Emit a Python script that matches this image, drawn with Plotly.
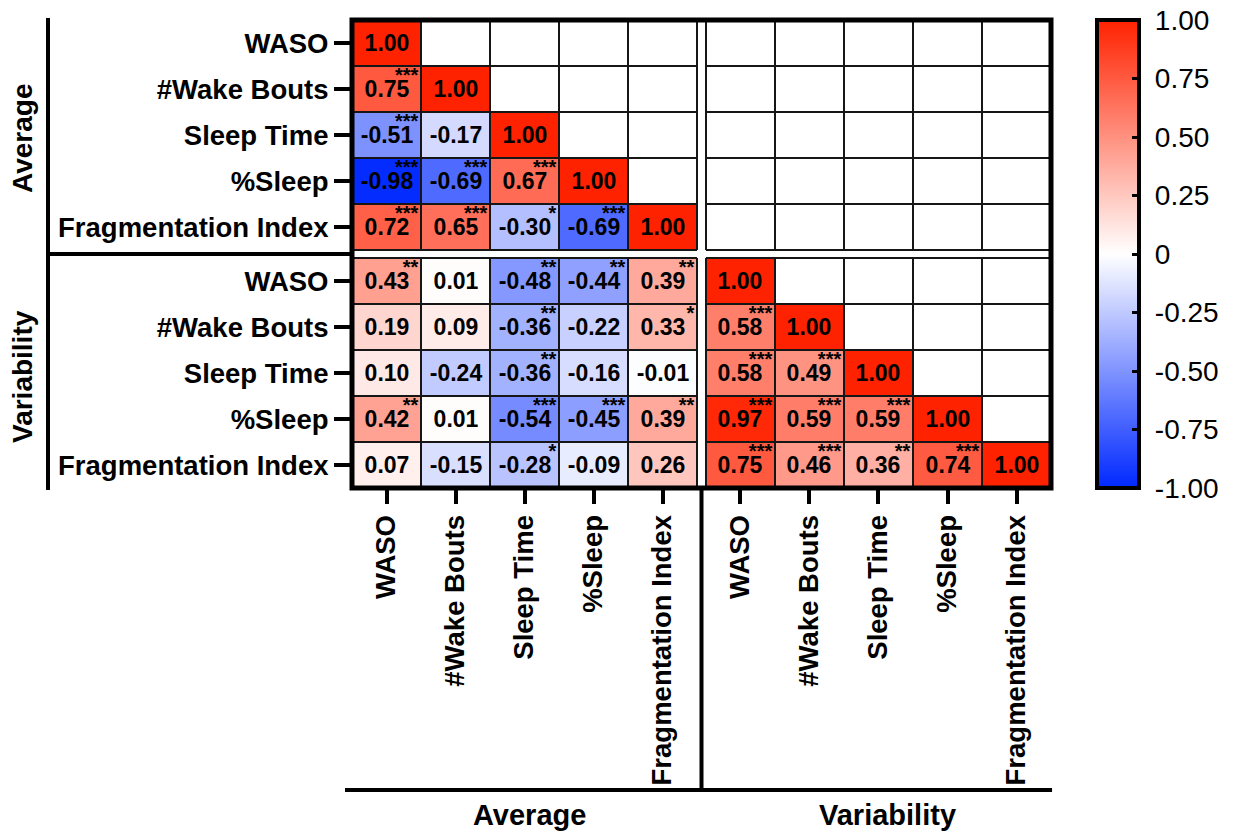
import plotly.graph_objects as go

variables = ["WASO", "#Wake Bouts", "Sleep Time", "%Sleep", "Fragmentation Index"]
groups = ["Average", "Variability"]

# Lower-triangle Pearson r, row by row (Average block, then Variability block)
r_rows = [
    [1.00],
    [0.75, 1.00],
    [-0.51, -0.17, 1.00],
    [-0.98, -0.69, 0.67, 1.00],
    [0.72, 0.65, -0.30, -0.69, 1.00],
    [0.43, 0.01, -0.48, -0.44, 0.39, 1.00],
    [0.19, 0.09, -0.36, -0.22, 0.33, 0.58, 1.00],
    [0.10, -0.24, -0.36, -0.16, -0.01, 0.58, 0.49, 1.00],
    [0.42, 0.01, -0.54, -0.45, 0.39, 0.97, 0.59, 0.59, 1.00],
    [0.07, -0.15, -0.28, -0.09, 0.26, 0.75, 0.46, 0.36, 0.74, 1.00],
]
# Significance markers for the same cells
star_rows = [
    [""],
    ["***", ""],
    ["***", "", ""],
    ["***", "***", "***", ""],
    ["***", "***", "*", "***", ""],
    ["**", "", "**", "**", "**", ""],
    ["", "", "**", "", "*", "***", ""],
    ["", "", "**", "", "", "***", "***", ""],
    ["**", "", "***", "***", "**", "***", "***", "***", ""],
    ["", "", "*", "", "", "***", "***", "**", "***", ""],
]
cbar_vals = [-1.0, -0.75, -0.5, -0.25, 0.0, 0.25, 0.5, 0.75, 1.0]
cbar_text = ["-1.00", "-0.75", "-0.50", "-0.25", "0", "0.25", "0.50", "0.75", "1.00"]

FONT = "Liberation Sans, Arial, Helvetica, sans-serif"
BLOCK = len(variables)
N = BLOCK * len(groups)
GAP_X = 0.13   # white gutter between the two column blocks (in cell units)
GAP_Y = 0.174  # white gutter between the two row blocks

# page layout in pixels
W_PAGE, H_PAGE = 1234, 831
L, T, W, H = 352, 20, 699, 468


def pos_x(i):
    return i + GAP_X * (i // BLOCK)


def pos_y(i):
    return i + GAP_Y * (i // BLOCK)


X_MIN, X_MAX = -0.5, N - 0.5 + GAP_X
Y_MIN, Y_MAX = -0.5, N - 0.5 + GAP_Y


def px_x(px):
    return (px - L) / W


def px_y(py):
    return 1 - (py - T) / H


def data_to_paper_x(x):
    return (x - X_MIN) / (X_MAX - X_MIN)


def data_to_paper_y(y):
    return 1 - (y - Y_MIN) / (Y_MAX - Y_MIN)


colorscale = [[0.0, "rgb(0,40,255)"], [0.5, "rgb(255,255,255)"], [1.0, "rgb(255,34,0)"]]

fig = go.Figure()

# one heatmap per filled block (row block >= column block)
for rb in range(len(groups)):
    for cb in range(rb + 1):
        rows = list(range(rb * BLOCK, (rb + 1) * BLOCK))
        cols = list(range(cb * BLOCK, (cb + 1) * BLOCK))
        z, txt = [], []
        for i in rows:
            zr, tr = [], []
            for j in cols:
                if j <= i:
                    v = r_rows[i][j]
                    zr.append(v)
                    tr.append(f"{v:.2f}")
                else:
                    zr.append(None)
                    tr.append("")
            z.append(zr)
            txt.append(tr)
        fig.add_trace(go.Heatmap(
            z=z,
            x=[pos_x(j) for j in cols],
            y=[pos_y(i) for i in rows],
            text=txt,
            texttemplate="%{text}",
            textfont=dict(family=FONT, size=23, color="black", weight="bold"),
            coloraxis="coloraxis",
            hoverinfo="skip",
        ))

# significance stars in the upper-right corner of each cell
sx, sy, st = [], [], []
for i in range(N):
    for j in range(i + 1):
        if star_rows[i][j]:
            sx.append(pos_x(j) + 0.46)
            sy.append(pos_y(i) - 0.26)
            st.append(star_rows[i][j])
fig.add_trace(go.Scatter(
    x=sx, y=sy, text=st, mode="text", textposition="middle left",
    textfont=dict(family=FONT, size=20, color="black", weight="bold"),
    hoverinfo="skip", showlegend=False,
))

shapes = []
# cell borders for each of the four blocks
for rb in range(len(groups)):
    for cb in range(len(groups)):
        x_edges = [pos_x(cb * BLOCK) - 0.5 + k for k in range(BLOCK + 1)]
        y_edges = [pos_y(rb * BLOCK) - 0.5 + k for k in range(BLOCK + 1)]
        for xe in x_edges:
            shapes.append(dict(type="line", xref="x", yref="y", x0=xe, x1=xe,
                               y0=y_edges[0], y1=y_edges[-1],
                               line=dict(color="#161616", width=2), layer="above"))
        for ye in y_edges:
            shapes.append(dict(type="line", xref="x", yref="y", y0=ye, y1=ye,
                               x0=x_edges[0], x1=x_edges[-1],
                               line=dict(color="#161616", width=2), layer="above"))

# heavy outer frame
shapes.append(dict(type="rect", xref="paper", yref="paper", x0=0, x1=1, y0=0, y1=1,
                   line=dict(color="black", width=5), layer="above"))

# group brackets on the left
bar_x = px_x(48)
mid_y = data_to_paper_y(BLOCK - 0.5 + GAP_Y / 2)
shapes.append(dict(type="line", xref="paper", yref="paper", x0=bar_x, x1=bar_x,
                   y0=px_y(490), y1=px_y(18), line=dict(color="black", width=4)))
shapes.append(dict(type="line", xref="paper", yref="paper", x0=bar_x, x1=0,
                   y0=mid_y, y1=mid_y, line=dict(color="black", width=4)))

# group brackets at the bottom
base_y = px_y(790)
mid_x = data_to_paper_x(BLOCK - 0.5 + GAP_X / 2)
shapes.append(dict(type="line", xref="paper", yref="paper", x0=px_x(345), x1=1.0015,
                   y0=base_y, y1=base_y, line=dict(color="black", width=4)))
shapes.append(dict(type="line", xref="paper", yref="paper", x0=mid_x, x1=mid_x,
                   y0=0, y1=base_y, line=dict(color="black", width=4)))

# colour bar: tick marks on the left edge (Plotly draws the right-edge ones)
cb_left = px_x(1097)
for v in cbar_vals[1:-1]:
    yv = (v - cbar_vals[0]) / (cbar_vals[-1] - cbar_vals[0])
    shapes.append(dict(type="line", xref="paper", yref="paper", xsizemode="pixel",
                       xanchor=cb_left, x0=2, x1=10, y0=yv, y1=yv,
                       line=dict(color="black", width=3)))

annotations = []
for g, name in enumerate(groups):
    cy = (pos_y(g * BLOCK) + pos_y(g * BLOCK + BLOCK - 1)) / 2
    cx = (pos_x(g * BLOCK) + pos_x(g * BLOCK + BLOCK - 1)) / 2
    annotations.append(dict(text=f"<b>{name}</b>", xref="paper", yref="y", x=px_x(22), y=cy,
                            yshift=-4, textangle=-90, showarrow=False,
                            xanchor="center", yanchor="middle",
                            font=dict(family=FONT, size=28, color="black")))
    annotations.append(dict(text=f"<b>{name}</b>", xref="x", yref="paper", x=cx, y=px_y(815),
                            xshift=5 + 4 * g, showarrow=False, xanchor="center", yanchor="middle",
                            font=dict(family=FONT, size=29, color="black")))

tick_font = dict(family=FONT, size=27.5, color="black", weight="bold")
fig.update_layout(
    width=W_PAGE, height=H_PAGE,
    margin=dict(l=L, r=W_PAGE - L - W, t=T, b=H_PAGE - T - H, pad=0, autoexpand=False),
    paper_bgcolor="white", plot_bgcolor="white",
    showlegend=False,
    coloraxis=dict(
        cmin=-1, cmax=1, colorscale=colorscale,
        colorbar=dict(
            x=cb_left, xanchor="left", xpad=0, y=0.5, yanchor="middle",
            len=1, lenmode="fraction", ypad=0, thickness=42,
            outlinewidth=4, outlinecolor="black",
            tickmode="array", tickvals=cbar_vals,
            ticktext=["\u00a0" + t for t in cbar_text],
            ticks="inside", ticklen=9, tickwidth=3, tickcolor="black",
            tickfont=dict(family=FONT, size=28, color="black"),
        ),
    ),
    xaxis=dict(
        range=[X_MIN, X_MAX], tickmode="array",
        tickvals=[pos_x(j) for j in range(N)], ticktext=variables * len(groups),
        tickangle=-90, ticks="outside", ticklen=15, tickwidth=4, tickcolor="black",
        tickfont=tick_font, showgrid=False, zeroline=False, showline=False,
        automargin=False, fixedrange=True,
    ),
    yaxis=dict(
        range=[Y_MAX, Y_MIN], tickmode="array",
        tickvals=[pos_y(i) for i in range(N)], ticktext=variables * len(groups),
        ticks="outside", ticklen=17, tickwidth=4, tickcolor="black",
        tickfont=tick_font, showgrid=False, zeroline=False, showline=False,
        automargin=False, fixedrange=True,
    ),
    shapes=shapes,
    annotations=annotations,
)

fig.write_html("out.html")
